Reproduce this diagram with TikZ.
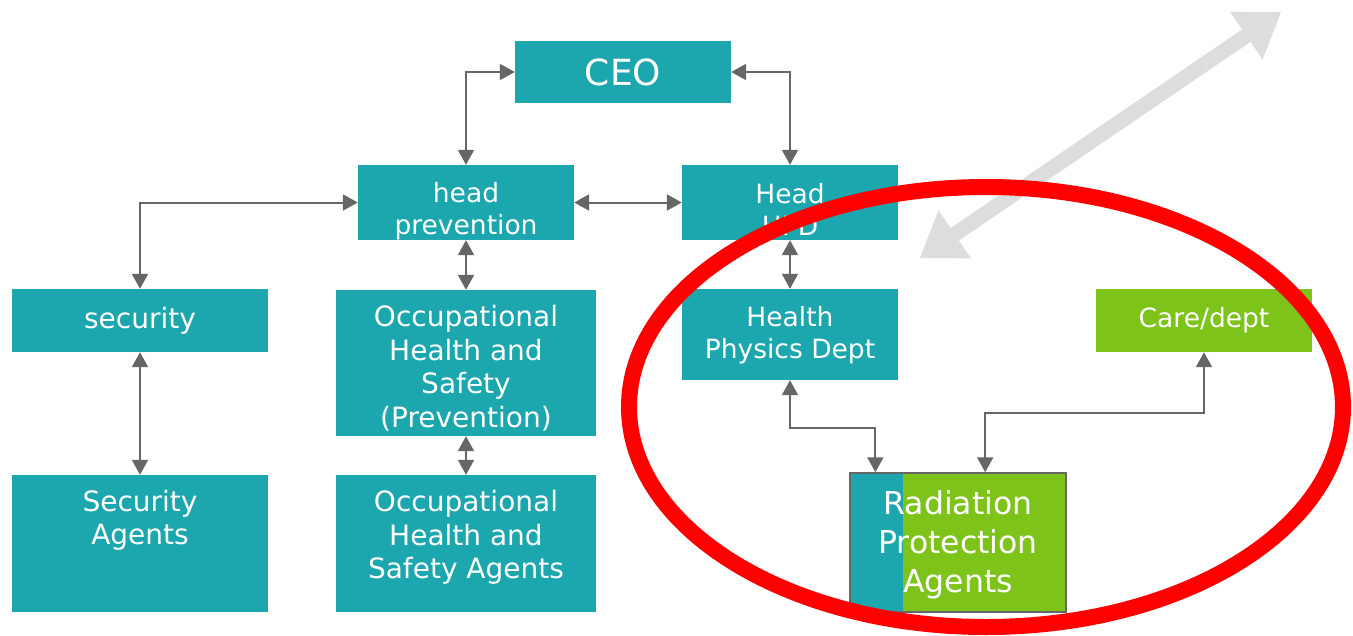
\documentclass[tikz,border=0pt]{standalone}
\usepackage{fontspec}
\setmainfont{DejaVu Sans}
\usetikzlibrary{arrows.meta,calc}
\definecolor{tealbox}{RGB}{28,166,174}
\definecolor{greenbox}{RGB}{126,195,26}
\definecolor{conngray}{RGB}{102,102,102}
\definecolor{biggray}{RGB}{221,221,221}
\begin{document}
\begin{tikzpicture}[x=1pt,y=-1pt,
  box/.style={fill=tealbox,inner sep=0pt},
  gbox/.style={box,fill=greenbox},
  txt/.style={inner sep=0pt,text=white,align=center,font=\fontsize{26.5}{32}\selectfont},
  bigtxt/.style={txt,font=\fontsize{28}{33.5}\selectfont},
  conn/.style={draw=conngray,line width=2pt,{Triangle[length=15pt,width=16pt]}-{Triangle[length=15pt,width=16pt]}}]
\useasboundingbox (0,0) rectangle (1353,635);
\fill[white] (0,0) rectangle (1353,635);
% boxes
\node[box,minimum width=216,minimum height=62] (ceo) at (623,72) {};
\node[txt,font=\fontsize{36}{43}\selectfont] (ceotext) at (623,72) {CEO};
\node[box,minimum width=216,minimum height=75] (hp) at (466,202.5) {};
\node[txt] (hptext) at (466,211) {head\\prevention};
\node[box,minimum width=216,minimum height=75] (hh) at (790,202.5) {};
\node[txt] (hhtext) at (790,209) {Head\\HPD};
\node[box,minimum width=256,minimum height=63] (sec) at (140,320.5) {};
\node[bigtxt] (sectext) at (140,320.5) {security};
\node[box,minimum width=260,minimum height=146] (ohs) at (466,363) {};
\node[bigtxt] (ohstext) at (466,368) {Occupational\\Health and\\Safety\\(Prevention)};
\node[box,minimum width=216,minimum height=91] (hpd) at (790,334.5) {};
\node[txt] (hpdtext) at (790,335.5) {Health\\Physics Dept};
\node[gbox,minimum width=216,minimum height=63] (care) at (1204,320.5) {};
\node[txt] (caretext) at (1204,320.5) {Care/dept};
\node[box,minimum width=256,minimum height=137] (sa) at (140,543.5) {};
\node[bigtxt] (satext) at (140,520.5) {Security\\Agents};
\node[box,minimum width=260,minimum height=137] (oa) at (466,543.5) {};
\node[bigtxt] (oatext) at (466,537.5) {Occupational\\Health and\\Safety Agents};
% radiation protection agents
\fill[greenbox] (850,473) rectangle (1066,612);
\fill[tealbox] (850,473) rectangle (903,612);
\node[draw=conngray,line width=1.5pt,minimum width=216,minimum height=139,inner sep=0pt] (rpa) at (958,542.5) {};
\node[txt,font=\fontsize{31.5}{39}\selectfont] (rpatext) at (958,545) {Radiation\\Protection\\Agents};
\coordinate (rpaL) at ($(rpa.north west)!0.12!(rpa.north east)$);
\coordinate (rpaR) at ($(rpa.north west)!0.625!(rpa.north east)$);
% connectors
\draw[conn] (ceo.west) -| (hp.north);
\draw[conn] (ceo.east) -| (hh.north);
\draw[conn] (hp.east) -- (hh.west);
\draw[conn] (hp.west) -| (sec.north);
\draw[conn] (hp.south) -- (ohs.north);
\draw[conn] (hh.south) -- (hpd.north);
\draw[conn] (sec.south) -- (sa.north);
\draw[conn] (ohs.south) -- (oa.north);
\draw[conn] (hpd.south) -- ++(0,48) -| (rpaL);
\draw[conn] (care.south) -- ++(0,61) -| (rpaR);
% big gray double arrow
\coordinate (ga) at (920,258);
\coordinate (gb) at (1281,12);
\coordinate (gab) at ($(ga)!42pt!(gb)$);
\coordinate (gbb) at ($(gb)!42pt!(ga)$);
\fill[biggray] (ga)
  -- ($(gab)!29pt!90:(gb)$) -- ($(gab)!7.5pt!90:(gb)$)
  -- ($(gbb)!7.5pt!-90:(ga)$) -- ($(gbb)!29pt!-90:(ga)$)
  -- (gb)
  -- ($(gbb)!29pt!90:(ga)$) -- ($(gbb)!7.5pt!90:(ga)$)
  -- ($(gab)!7.5pt!-90:(gb)$) -- ($(gab)!29pt!-90:(gb)$)
  -- cycle;
% red ellipse
\draw[red,line width=16pt] (986,407) ellipse [x radius=357, y radius=220];
\end{tikzpicture}
\end{document}
